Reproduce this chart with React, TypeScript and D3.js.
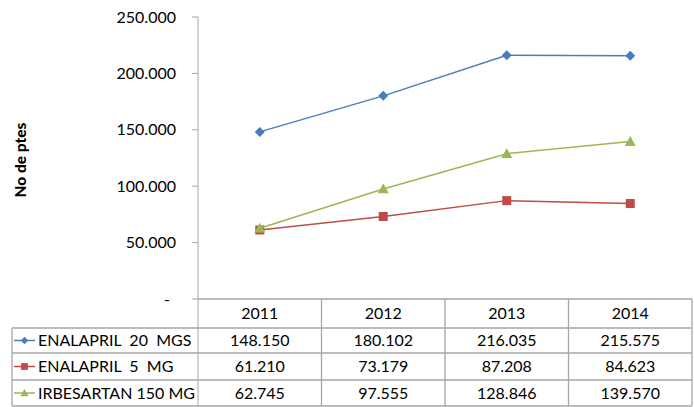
import React from "react";
import * as d3 from "d3";

const years = ["2011", "2012", "2013", "2014"];
const seriesNames = ["ENALAPRIL  20  MGS", "ENALAPRIL  5  MG", "IRBESARTAN 150 MG"];
const enalapril20 = [148150, 180102, 216035, 215575];
const enalapril5 = [61210, 73179, 87208, 84623];
const irbesartan150 = [62745, 97555, 128846, 139570];
const yTicks = [0, 50000, 100000, 150000, 200000, 250000];
const colors = ["#4A7EBB", "#BE4B48", "#98B954"];
const markers = ["diamond", "square", "triangle"];

const W = 694, H = 407;
const axisX = 198, right = 692;
const plotTop = 17, plotBottom = 299;
const tableLeft = 12;
const rowBounds = [299, 328, 353, 380, 406];

const fmt = (v: number) => (v === 0 ? "-" : d3.format(",")(v).replace(/,/g, "."));

function Marker({ type, x, y, color, s = 1 }: { type: string; x: number; y: number; color: string; s?: number }) {
  if (type === "diamond") {
    const r = 5 * s;
    return <path d={`M${x},${y - r}L${x + r},${y}L${x},${y + r}L${x - r},${y}Z`} fill={color} />;
  }
  if (type === "square") {
    const r = 4.5 * s;
    return <rect x={x - r} y={y - r} width={2 * r} height={2 * r} fill={color} />;
  }
  const r = 5.5 * s;
  return <path d={`M${x},${y - r}L${x + r},${y + r * 0.8}L${x - r},${y + r * 0.8}Z`} fill={color} />;
}

export default function App() {
  const series = [enalapril20, enalapril5, irbesartan150];
  const x = d3.scaleBand<string>().domain(years).range([axisX, right]);
  const y = d3.scaleLinear().domain([0, 250000]).range([plotBottom, plotTop]);
  const line = d3
    .line<number>()
    .x((_, i) => (x(years[i]) as number) + x.bandwidth() / 2)
    .y((d) => y(d));
  const font = "Lato, 'Open Sans', sans-serif";
  const grid = "#A6A6A6";

  return (
    <svg width={W} height={H} style={{ position: "absolute", left: 0, top: 0, background: "#fff" }} fontFamily={font}>
      {/* y label */}
      <text
        transform={`translate(26,160) rotate(-90)`}
        textAnchor="middle"
        fontSize={15.5}
        fontWeight="900"
        fill="#000"
      >
        No de ptes
      </text>
      {/* y axis */}
      <line x1={axisX} x2={axisX} y1={plotTop} y2={rowBounds[4]} stroke={grid} strokeWidth={1} />
      {yTicks.map((t) => (
        <g key={t}>
          <line x1={axisX - 6} x2={axisX} y1={y(t)} y2={y(t)} stroke={grid} />
          <text x={t === 0 ? 170 : 176} y={y(t)} dy="0.35em" textAnchor="end" fontSize={16} fill="#000">
            {fmt(t)}
          </text>
        </g>
      ))}
      {/* table horizontal lines */}
      {rowBounds.map((rb, i) => (
        <line
          key={i}
          x1={i === 0 ? axisX : tableLeft}
          x2={right}
          y1={rb}
          y2={rb}
          stroke={grid}
          strokeWidth={1.3}
        />
      ))}
      {/* table vertical lines */}
      <line x1={tableLeft} x2={tableLeft} y1={rowBounds[1]} y2={rowBounds[4]} stroke={grid} strokeWidth={1.3} />
      {years.map((yr) => {
        const bx = (x(yr) as number) + x.bandwidth();
        return <line key={yr} x1={bx} x2={bx} y1={rowBounds[0]} y2={rowBounds[4]} stroke={grid} strokeWidth={1.3} />;
      })}
      {/* header */}
      {years.map((yr) => (
        <text
          key={yr}
          x={(x(yr) as number) + x.bandwidth() / 2}
          y={(rowBounds[0] + rowBounds[1]) / 2}
          dy="0.35em"
          textAnchor="middle"
          fontSize={16}
          fill="#000"
        >
          {yr}
        </text>
      ))}
      {/* rows */}
      {series.map((vals, si) => {
        const cy = (rowBounds[si + 1] + rowBounds[si + 2]) / 2;
        return (
          <g key={si}>
            <line x1={14} x2={35} y1={cy} y2={cy} stroke={colors[si]} strokeWidth={1.5} />
            <Marker type={markers[si]} x={24.5} y={cy} color={colors[si]} s={0.75} />
            <text x={38} y={cy} dy="0.35em" fontSize={16} fill="#000" style={{ whiteSpace: "pre" }}>
              {seriesNames[si]}
            </text>
            {vals.map((v, i) => (
              <text
                key={i}
                x={(x(years[i]) as number) + x.bandwidth() / 2}
                y={cy}
                dy="0.35em"
                textAnchor="middle"
                fontSize={16}
                fill="#000"
              >
                {fmt(v)}
              </text>
            ))}
          </g>
        );
      })}
      {/* lines */}
      {series.map((vals, si) => (
        <g key={si}>
          <path d={line(vals) as string} fill="none" stroke={colors[si]} strokeWidth={1.5} />
          {vals.map((v, i) => (
            <Marker
              key={i}
              type={markers[si]}
              x={(x(years[i]) as number) + x.bandwidth() / 2}
              y={y(v)}
              color={colors[si]}
            />
          ))}
        </g>
      ))}
    </svg>
  );
}
